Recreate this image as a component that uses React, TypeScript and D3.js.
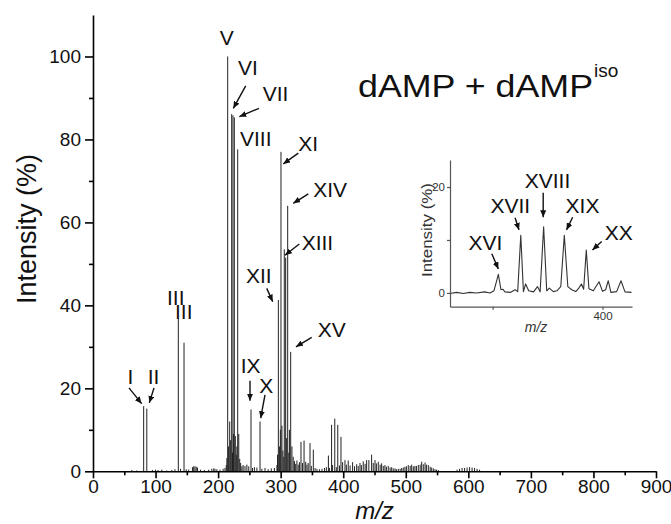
import React, { useEffect, useRef } from 'react';
import * as d3 from 'd3';

// main spectrum: labelled peaks (m/z, intensity %)
const labeledMz = [81, 86, 136.4, 145.5, 215.3, 221.7, 223.8, 225.9, 231.3, 252.6, 267, 296.3, 300.5, 305.8, 308, 311.2, 316];
const labeledInt = [15.7, 15.1, 36.8, 31, 100, 86.1, 85.8, 85.3, 77.6, 14.9, 12.0, 41.3, 77.0, 53.5, 51.5, 64, 28.8];

// main spectrum: the smaller sticks
const minorMz = [
  62, 70, 95, 100, 104, 110, 118, 126, 131, 140, 149, 153, 159, 161, 163, 165, 167, 172, 178, 185, 190, 193, 195, 198, 203, 208, 211,
  213, 214, 216.5, 218.5, 220, 223, 224.5, 227.5, 229, 230, 233, 234.5, 236, 238, 240, 243, 246, 249, 255, 258, 262, 270, 275, 280, 285, 290,
  294, 295, 298, 299.5, 302, 303.5, 305, 309.5, 313, 314, 318, 320, 322, 324, 326, 328, 330,
  332.5, 335, 337.4, 340, 342, 344, 346.9, 349, 352.2, 355, 358, 362, 366, 370, 373,
  376.3, 378, 381.4, 383, 386.5, 389, 391.3, 394, 396.4, 399,
  402.8, 405, 408, 411, 415, 418, 421.5, 424, 426.8, 429, 432, 435, 437.4, 441, 445.4, 448, 450.8, 453, 456, 459, 461.4, 464, 466.7, 469,
  472, 475, 477.5, 480, 482.8, 485, 488, 491, 493.5, 496, 498.7, 501, 504, 507, 509.4, 512, 514.6, 517, 520, 523, 525.4, 528, 530.8, 533,
  536, 539, 541.4, 544, 546.7, 549, 552,
  582, 586, 590, 594, 598, 602, 606, 610, 614, 618,
];
const minorInt = [
  0.3, 0.2, 0.3, 0.4, 0.3, 0.4, 0.2, 0.3, 0.5, 0.6, 0.5, 0.4, 1.0, 1.2, 1.2, 1.1, 0.9, 0.4, 0.3, 0.4, 0.6, 0.7, 0.6, 0.5, 0.4, 0.6, 0.8,
  1.5, 3.2, 6, 12, 7.5, 4.5, 9, 8.5, 4, 6, 9, 3, 2, 1.2, 1.5, 1.3, 1.6, 1.2, 0.8, 1, 0.9, 0.6, 0.8, 0.5, 0.7, 0.8,
  1.5, 4, 6, 10, 11, 5, 3.5, 8, 4.5, 10, 6, 3.5, 2.5, 1.8, 2.6, 1.6, 2.2,
  7.1, 2, 7.4, 2.3, 1.6, 2, 6.8, 1.3, 5.2, 0.8, 0.6, 0.5, 0.6, 0.8, 1.0,
  3.8, 0.8, 11.2, 1.5, 12.7, 1, 11.2, 1.4, 8.3, 2.2,
  2.7, 1.6, 2.6, 1.4, 2.2, 1.2, 1.7, 1.3, 2.0, 1.5, 2.4, 1.8, 2.7, 2.7, 4.0, 2.0, 2.7, 1.9, 2.3, 1.6, 1.9, 1.3, 1.5, 1.1,
  1.3, 0.9, 1.0, 0.7, 0.7, 0.5, 0.6, 0.6, 0.8, 0.9, 1.1, 1.2, 1.5, 1.3, 1.6, 1.2, 1.3, 1.3, 1.5, 1.6, 2.3, 1.7, 2.1, 1.6,
  1.5, 1.1, 0.9, 0.7, 0.5, 0.4, 0.3,
  0.4, 0.6, 0.8, 0.8, 0.9, 1.0, 0.9, 0.8, 0.6, 0.4,
];

// inset trace
const insetMz = [
  365.3, 366.8, 368.3, 369.8, 371.3, 373.2, 374.4, 375.3, 376.3, 376.9, 377.3, 377.8, 379, 380.1, 380.7, 381.4, 382, 382.5, 383.2,
  384.3, 385.2, 385.8, 386.6, 387.3, 387.9, 388.8, 389.6, 390.5, 391.3, 392.1, 393, 393.9, 394.6, 395.2, 395.7, 396.3, 396.9, 397.9,
  399.2, 400, 400.7, 401.3, 401.9, 403.2, 404.2, 405.1, 406.6,
];
const insetInt = [
  -0.1, 0.1, -0.1, 0.1, 0, 0.2, 0, 0.4, 3.5, 0.6, 0.7, 0.2, 0.1, 0.6, 0.25, 10.9, 0.25, 1.7, 0.4,
  0.2, 1.2, 0.2, 12.5, 0.4, 0.9, 0.25, 0.4, 1.2, 10.9, 1.2, 0.6, 0.25, 0.9, 1.7, 0.7, 8.1, 0.8, 0.4,
  2.1, 0.3, 0.6, 2.3, 0.1, 0.25, 2.3, 0.2, 0.1,
];

// annotations in data units: label [mz, int], arrow from [mz, int] to [mz, int]
const mainLabels = ['I', 'II', 'III', 'III', 'V', 'VI', 'VII', 'VIII', 'IX', 'X', 'XI', 'XII', 'XIII', 'XIV', 'XV'];
const mainLabelPos = [
  [55.3, 21.1], [87.4, 21.1], [118.3, 40.1], [131.1, 36.7], [213.7, 102.8], [231.8, 95.5], [271.3, 89.2], [235, 78.5],
  [236.1, 23.8], [265.8, 18.9], [328.2, 77.3], [244.6, 45.3], [333.6, 53.4], [352.1, 66.2], [359.2, 32.4],
];
const mainArrows = [
  [57.5, 20.1, 77.8, 16.3], [97.5, 20.1, 90, 16.5], [244.1, 92.9, 224.3, 87.5], [265.3, 87.5, 233.9, 85.5],
  [251, 21.8, 251, 17.0], [274.9, 18.4, 268.1, 12.8], [328.2, 76.7, 304.2, 74.1], [277.7, 44.1, 287.3, 40.9],
  [329.8, 54.8, 306.9, 52.1], [344.2, 66.9, 320.2, 64.6], [349.6, 32.3, 324.5, 30.0],
];
const insetLabels = ['XVI', 'XVII', 'XVIII', 'XIX', 'XX'];
const insetLabelPos = [[369.5, 8.1], [374.5, 15.0], [382.3, 19.8], [391.6, 15.0], [400.5, 9.9]];
const insetArrows = [
  [374.8, 7.4, 376.3, 4.5], [380.1, 14.2, 381.0, 11.9], [386.5, 18.9, 386.5, 14.3], [393.2, 14.3, 391.8, 11.9], [399.8, 9.7, 397.7, 8.1],
];

const xMajor = [0, 100, 200, 300, 400, 500, 600, 700, 800, 900];
const xMinor = [50, 150, 250, 350, 450, 550, 650, 750, 850];
const yMajor = [0, 20, 40, 60, 80, 100];
const yMinor = [10, 30, 50, 70, 90];
const insetYMajor = [0, 20];
const insetYMinor = [10];
const insetXMajor = [400];
const insetXMinor = [375];

const FONT = "'Liberation Sans', Arial, Helvetica, sans-serif";

const App = () => {
  const ref = useRef<SVGSVGElement>(null);

  useEffect(() => {
    if (!ref.current) return;
    const svg = d3.select(ref.current);
    svg.selectAll('*').remove();

    svg
      .append('defs')
      .append('marker')
      .attr('id', 'ah')
      .attr('markerUnits', 'userSpaceOnUse')
      .attr('markerWidth', 8)
      .attr('markerHeight', 6)
      .attr('refX', 7)
      .attr('refY', 3)
      .attr('orient', 'auto')
      .append('path')
      .attr('d', 'M0,0 L7,3 L0,6 Z')
      .attr('fill', '#111');

    // ---- main plot
    const x = d3.scaleLinear().domain([0, 900]).range([93, 656]);
    const y = d3.scaleLinear().domain([0, 110]).range([471.3, 15]);

    const sticks = svg.append('g');
    const addSticks = (mz: number[], it: number[]) => {
      sticks
        .selectAll(null)
        .data(mz.map((m, i) => [m, it[i]]))
        .enter()
        .append('line')
        .attr('x1', (d) => x(d[0]))
        .attr('x2', (d) => x(d[0]))
        .attr('y1', y(0))
        .attr('y2', (d) => y(d[1]))
        .attr('stroke', '#222')
        .attr('stroke-width', 1);
    };
    addSticks(minorMz, minorInt);
    addSticks(labeledMz, labeledInt);

    const styleAxis = (g: any, size: number) => {
      g.select('.domain').attr('stroke', '#000').attr('stroke-width', 1.6);
      g.selectAll('.tick line').attr('stroke', '#000').attr('stroke-width', 1.6);
      g.selectAll('text').attr('font-family', FONT).attr('font-size', size).attr('fill', '#111');
    };

    const gx = svg
      .append('g')
      .attr('transform', `translate(0,${y(0)})`)
      .call(d3.axisBottom(x).tickValues(xMajor).tickSize(7).tickPadding(1).tickSizeOuter(0));
    styleAxis(gx, 19);
    svg
      .append('g')
      .attr('transform', `translate(0,${y(0)})`)
      .call(d3.axisBottom(x).tickValues(xMinor).tickSize(4).tickFormat(() => '').tickSizeOuter(0))
      .call((g) => styleAxis(g, 19))
      .select('.domain')
      .remove();

    const gy = svg
      .append('g')
      .attr('transform', `translate(${x(0)},0)`)
      .call(d3.axisLeft(y).tickValues(yMajor).tickSize(8).tickPadding(4).tickSizeOuter(0));
    styleAxis(gy, 19);
    svg
      .append('g')
      .attr('transform', `translate(${x(0)},0)`)
      .call(d3.axisLeft(y).tickValues(yMinor).tickSize(4).tickFormat(() => '').tickSizeOuter(0))
      .call((g) => styleAxis(g, 19))
      .select('.domain')
      .remove();

    svg
      .append('text')
      .attr('transform', `translate(35.5,229) rotate(-90)`)
      .attr('text-anchor', 'middle')
      .attr('font-family', FONT)
      .attr('font-size', 27)
      .attr('fill', '#111')
      .text('Intensity (%)');

    svg
      .append('text')
      .attr('x', x(450))
      .attr('y', 519)
      .attr('text-anchor', 'middle')
      .attr('font-family', FONT)
      .attr('font-style', 'italic')
      .attr('font-size', 24)
      .attr('fill', '#111')
      .text('m/z');

    svg
      .append('text')
      .attr('x', 358)
      .attr('y', 97)
      .attr('font-family', FONT)
      .attr('font-size', 31)
      .attr('textLength', 235)
      .attr('lengthAdjust', 'spacingAndGlyphs')
      .attr('fill', '#111')
      .text('dAMP + dAMP');
    svg
      .append('text')
      .attr('x', 594)
      .attr('y', 76.5)
      .attr('font-family', FONT)
      .attr('font-size', 19)
      .attr('fill', '#111')
      .text('iso');

    const ann = svg.append('g');
    mainLabels.forEach((t, i) => {
      ann
        .append('text')
        .attr('x', x(mainLabelPos[i][0]))
        .attr('y', y(mainLabelPos[i][1]))
        .attr('text-anchor', t === 'V' ? 'middle' : 'start')
        .attr('font-family', FONT)
        .attr('font-size', 21)
        .attr('fill', '#111')
        .text(t);
    });
    mainArrows.forEach((a) => {
      ann
        .append('line')
        .attr('x1', x(a[0]))
        .attr('y1', y(a[1]))
        .attr('x2', x(a[2]))
        .attr('y2', y(a[3]))
        .attr('stroke', '#111')
        .attr('stroke-width', 1.4)
        .attr('marker-end', 'url(#ah)');
    });

    // ---- inset
    const ix = d3.scaleLinear().domain([365.3, 406.7]).range([450, 632]);
    const iy = d3.scaleLinear().domain([-2.6, 25.1]).range([306.7, 160]);

    svg
      .append('path')
      .datum(insetMz.map((m, i) => [m, insetInt[i]]))
      .attr('fill', 'none')
      .attr('stroke', '#333')
      .attr('stroke-width', 1.1)
      .attr('stroke-linejoin', 'round')
      .attr(
        'd',
        d3
          .line<number[]>()
          .x((d) => ix(d[0]))
          .y((d) => iy(d[1]))
      );

    const styleInset = (g: any) => {
      g.select('.domain').attr('stroke', '#555').attr('stroke-width', 1.2);
      g.selectAll('.tick line').attr('stroke', '#555').attr('stroke-width', 1.2);
      g.selectAll('text').attr('font-family', FONT).attr('font-size', 11.5).attr('fill', '#333');
    };
    svg
      .append('g')
      .attr('transform', `translate(0,${iy(-2.6)})`)
      .call(d3.axisBottom(ix).tickValues(insetXMajor).tickSize(3).tickPadding(2).tickSizeOuter(0))
      .call(styleInset);
    svg
      .append('g')
      .attr('transform', `translate(0,${iy(-2.6)})`)
      .call(d3.axisBottom(ix).tickValues(insetXMinor).tickSize(3).tickFormat(() => '').tickSizeOuter(0))
      .call(styleInset)
      .select('.domain')
      .remove();
    svg
      .append('g')
      .attr('transform', `translate(${ix(365.3)},0)`)
      .call(d3.axisLeft(iy).tickValues(insetYMajor).tickSize(3).tickPadding(2).tickSizeOuter(0))
      .call(styleInset);
    svg
      .append('g')
      .attr('transform', `translate(${ix(365.3)},0)`)
      .call(d3.axisLeft(iy).tickValues(insetYMinor).tickSize(3).tickFormat(() => '').tickSizeOuter(0))
      .call(styleInset)
      .select('.domain')
      .remove();

    svg
      .append('text')
      .attr('transform', `translate(432,230) rotate(-90)`)
      .attr('text-anchor', 'middle')
      .attr('font-family', FONT)
      .attr('font-size', 14)
      .attr('textLength', 94)
      .attr('lengthAdjust', 'spacingAndGlyphs')
      .attr('fill', '#333')
      .text('Intensity (%)');
    svg
      .append('text')
      .attr('x', 536)
      .attr('y', 332)
      .attr('text-anchor', 'middle')
      .attr('font-family', FONT)
      .attr('font-style', 'italic')
      .attr('font-size', 14)
      .attr('fill', '#333')
      .text('m/z');

    insetLabels.forEach((t, i) => {
      ann
        .append('text')
        .attr('x', ix(insetLabelPos[i][0]))
        .attr('y', iy(insetLabelPos[i][1]))
        .attr('font-family', FONT)
        .attr('font-size', 21)
        .attr('fill', '#111')
        .text(t);
    });
    insetArrows.forEach((a) => {
      ann
        .append('line')
        .attr('x1', ix(a[0]))
        .attr('y1', iy(a[1]))
        .attr('x2', ix(a[2]))
        .attr('y2', iy(a[3]))
        .attr('stroke', '#111')
        .attr('stroke-width', 1.4)
        .attr('marker-end', 'url(#ah)');
    });
  }, []);

  return (
    <div style={{ position: 'absolute', left: 0, top: 0 }}>
      <svg width={671} height={524} ref={ref} style={{ display: 'block', background: '#fff' }} />
    </div>
  );
};

export default App;
